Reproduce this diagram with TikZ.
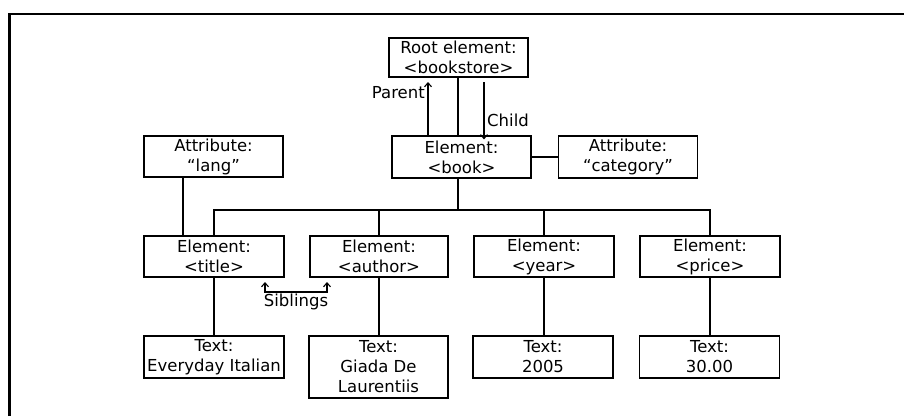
\documentclass[tikz,border=0pt]{standalone}
\usepackage{fontspec}
\setmainfont{DejaVu Sans}
\usetikzlibrary{arrows.meta}
\begin{document}
\begin{tikzpicture}[x=1pt,y=-1pt,
  every node/.style={font=\fontsize{16.5}{20}\selectfont},
  box/.style={draw,line width=1.2pt,inner sep=0pt,minimum width=139pt,minimum height=41pt,align=center},
  link/.style={line width=1.2pt},
  arr/.style={line width=1.1pt,-{Straight Barb[length=4pt,width=7pt,line width=1.1pt]}},
  lbl/.style={inner sep=1pt}]
\useasboundingbox (0,0) rectangle (904,416);
\fill[white] (0,0) rectangle (904,416);
% outer frame (top and left edges)
\draw[line width=2.4pt] (9.5,416) -- (9.5,14) -- (904,14);

% nodes
\node[box,minimum height=39pt] (root) at (458.5,57.5) {Root element:\\<bookstore>};
\node[box,minimum height=42pt] (book) at (461.5,157) {Element:\\<book>};
\node[box,minimum height=42pt] (cat) at (628,157) {Attribute:\\``category''};
\node[box] (lang) at (213.5,156.5) {Attribute:\\``lang''};
\node[box,minimum width=140pt] (title) at (214,256.5) {Element:\\<title>};
\node[box,minimum width=138pt] (author) at (379,256.5) {Element:\\<author>};
\node[box,minimum width=140pt] (year) at (544,256.5) {Element:\\<year>};
\node[box,minimum width=140pt] (price) at (710,256.5) {Element:\\<price>};
\node[box,minimum width=140pt,minimum height=42pt] (t1) at (214,357) {Text:\\Everyday Italian};
\node[box,minimum height=62pt] (t2) at (378.5,367) {Text:\\Giada De\\Laurentiis};
\node[box,minimum width=140pt,minimum height=42pt] (t3) at (543,357) {Text:\\2005};
\node[box,minimum width=140pt,minimum height=42pt] (t4) at (709.5,357) {Text:\\30.00};

% trunk and bus
\coordinate (bus) at (458,210);
\coordinate (langx) at (183,0);
\draw[link] (root.south -| bus) -- (book.north -| bus);
\draw[link] (book.south -| bus) -- (bus);
\draw[link] (book.east) -- (cat.west);
\draw[link] (title.north) -- (title.north |- bus) -| (price.north);
\draw[link] (author.north) -- (author.north |- bus);
\draw[link] (year.north) -- (year.north |- bus);
\draw[link] (lang.south -| langx) -- (title.north -| langx);
\draw[link] (title.south) -- (title.south |- t1.north);
\draw[link] (author.south) -- (author.south |- t2.north);
\draw[link] (year.south) -- (year.south |- t3.north);
\draw[link] (price.south) -- (price.south |- t4.north);

% parent / child arrows
\coordinate (pa) at (428,82);
\coordinate (ch) at (484,82);
\draw[arr] (book.north -| pa) -- (pa);
\draw[arr] (ch) -- ([yshift=-4pt]book.north -| ch);
\node[lbl,anchor=east] (plbl) at (426,93) {Parent};
\node[lbl,anchor=west] (clbl) at (486,120) {Child};

% siblings
\coordinate (s1) at (265,282);
\coordinate (s2) at (327,282);
\draw[line width=1.1pt,{Straight Barb[length=4pt,width=7pt,line width=1.1pt]}-{Straight Barb[length=4pt,width=7pt,line width=1.1pt]}]
  (s1) -- ++(0,10) -| (s2);
\node[lbl] (slbl) at (296,302) {Siblings};
\end{tikzpicture}
\end{document}
